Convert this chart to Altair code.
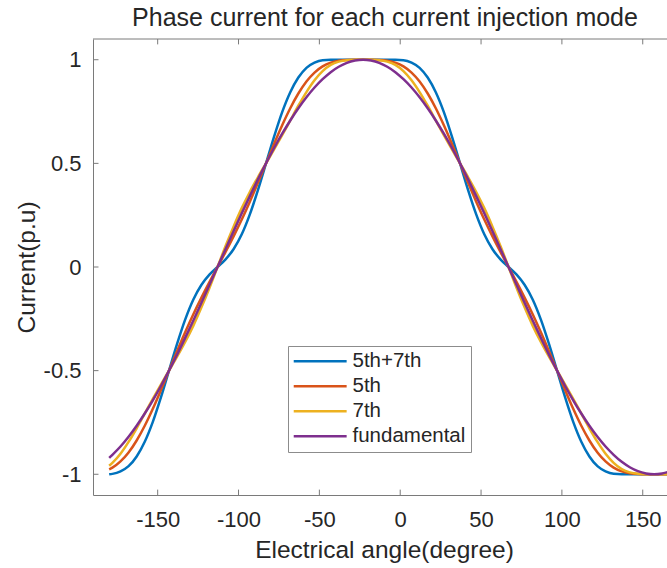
import altair as alt
import pandas as pd

# electrical angle (degree)
angle = [-180, -178, -173, -168, -163, -158, -153, -148, -143, -138, -133, -128, -123, -118,
         -113, -108, -103, -98, -93, -88, -83, -78, -73, -68, -63, -58, -53, -48, -43, -38,
         -33, -28, -23, -18, -13, -8, -3, 2, 7, 12, 17, 22, 27, 32, 37, 42, 47, 52, 57, 62,
         67, 72, 77, 82, 87, 92, 97, 102, 107, 112, 117, 122, 127, 132, 137, 142, 147, 152,
         157, 162, 167, 172, 177, 180]

series_names = ["5th+7th", "5th", "7th", "fundamental"]
colors = ["#0072BD", "#D95319", "#EDB120", "#7E2F8E"]

i_5th_7th = [
    -1.0, -0.998, -0.986, -0.961, -0.914, -0.843, -0.747, -0.629, -0.5, -0.371, -0.254, -0.158, -0.087, -0.037, 0.0,
    0.037, 0.087, 0.158, 0.254, 0.371, 0.5, 0.629, 0.747, 0.843, 0.914, 0.961, 0.986, 0.998, 1.0, 1.0, 1.0, 1.0, 1.0,
    1.0, 1.0, 1.0, 1.0, 0.998, 0.986, 0.961, 0.914, 0.843, 0.747, 0.629, 0.5, 0.371, 0.254, 0.158, 0.087, 0.037, 0.0,
    -0.037, -0.087, -0.158, -0.254, -0.371, -0.5, -0.629, -0.747, -0.843, -0.914, -0.961, -0.986, -0.998, -1.0, -1.0, -1.0, -1.0, -1.0,
    -1.0, -1.0, -1.0, -1.0, -1.0]

i_5th = [
    -0.976, -0.968, -0.938, -0.895, -0.837, -0.766, -0.684, -0.594, -0.5, -0.406, -0.315, -0.229, -0.149, -0.073, 0.0,
    0.073, 0.149, 0.229, 0.315, 0.406, 0.5, 0.594, 0.684, 0.766, 0.837, 0.895, 0.938, 0.968, 0.986, 0.995, 0.999, 1.0, 1.0,
    1.0, 0.999, 0.995, 0.986, 0.968, 0.938, 0.895, 0.837, 0.766, 0.684, 0.594, 0.5, 0.406, 0.315, 0.229, 0.149, 0.073, 0.0,
    -0.073, -0.149, -0.229, -0.315, -0.406, -0.5, -0.594, -0.684, -0.766, -0.837, -0.895, -0.938, -0.968, -0.986, -0.995, -0.999, -1.0, -1.0,
    -1.0, -0.999, -0.995, -0.986, -0.976]

i_7th = [
    -0.959, -0.945, -0.901, -0.844, -0.778, -0.707, -0.636, -0.567, -0.5, -0.433, -0.362, -0.284, -0.196, -0.101, 0.0,
    0.101, 0.196, 0.284, 0.362, 0.433, 0.5, 0.567, 0.636, 0.707, 0.778, 0.844, 0.901, 0.945, 0.975, 0.991, 0.998, 1.0, 1.0,
    1.0, 0.998, 0.991, 0.975, 0.945, 0.901, 0.844, 0.778, 0.707, 0.636, 0.567, 0.5, 0.433, 0.362, 0.284, 0.196, 0.101, 0.0,
    -0.101, -0.196, -0.284, -0.362, -0.433, -0.5, -0.567, -0.636, -0.707, -0.778, -0.844, -0.901, -0.945, -0.975, -0.991, -0.998, -1.0, -1.0,
    -1.0, -0.998, -0.991, -0.975, -0.959]

i_fund = [
    -0.921, -0.906, -0.866, -0.819, -0.766, -0.707, -0.643, -0.574, -0.5, -0.423, -0.342, -0.259, -0.174, -0.087, 0.0,
    0.087, 0.174, 0.259, 0.342, 0.423, 0.5, 0.574, 0.643, 0.707, 0.766, 0.819, 0.866, 0.906, 0.940, 0.966, 0.985, 0.996, 1.0,
    0.996, 0.985, 0.966, 0.940, 0.906, 0.866, 0.819, 0.766, 0.707, 0.643, 0.574, 0.5, 0.423, 0.342, 0.259, 0.174, 0.087, 0.0,
    -0.087, -0.174, -0.259, -0.342, -0.423, -0.5, -0.574, -0.643, -0.707, -0.766, -0.819, -0.866, -0.906, -0.940, -0.966, -0.985, -0.996, -1.0,
    -0.996, -0.985, -0.966, -0.940, -0.921]

x_ticks = [-150, -100, -50, 0, 50, 100, 150]
y_ticks = [-1, -0.5, 0, 0.5, 1]
x_lim = [-190, 165]
y_lim = [-1.1, 1.1]

FONT = "Liberation Sans"
TXT = "#262626"
FRAME = "#7a7a7a"
TICK_LEN_Y = 0.026   # inward tick length in y units
TICK_LEN_X = 3.4     # inward tick length in x units

rows = []
for name, vals in zip(series_names, [i_5th_7th, i_5th, i_7th, i_fund]):
    assert len(vals) == len(angle)
    for a, v in zip(angle, vals):
        rows.append({"angle": a, "current": v, "mode": name})
df = pd.DataFrame(rows)

xscale = alt.Scale(domain=x_lim, nice=False, zero=False)
yscale = alt.Scale(domain=y_lim, nice=False, zero=False)

x_axis = alt.Axis(values=x_ticks, title="Electrical angle(degree)", grid=False,
                  ticks=False, tickSize=0, labelPadding=31, labelBaseline="alphabetic",
                  labelExpr="'' + datum.value", labelFontSize=22,
                  titleFontSize=24.5, titleX=291, titleY=62, titleBaseline="alphabetic",
                  domainColor=FRAME)
y_axis = alt.Axis(values=y_ticks, title="Current(p.u)", grid=False,
                  ticks=False, tickSize=0, labelPadding=12,
                  labelExpr="'' + datum.value", labelFontSize=22,
                  titleFontSize=24.5, titleX=-59, titleY=228, titleBaseline="alphabetic",
                  titleAngle=270, domainColor=FRAME)

lines = alt.Chart(df).mark_line(strokeWidth=2.5, interpolate="monotone", clip=True).encode(
    x=alt.X("angle:Q", scale=xscale, axis=x_axis),
    y=alt.Y("current:Q", scale=yscale, axis=y_axis),
    color=alt.Color("mode:N", scale=alt.Scale(domain=series_names, range=colors),
                    legend=alt.Legend(title=None, orient="none", legendX=195, legendY=307,
                                      symbolType="M-1.8,0L8.2,0", symbolSize=112,
                                      symbolStrokeWidth=2.5, labelFontSize=20.5,
                                      labelFont=FONT, labelColor=TXT, labelOffset=39,
                                      padding=5, rowPadding=4, strokeColor="#8c8c8c",
                                      fillColor="white")),
)

xt = pd.DataFrame({"t": x_ticks,
                   "b0": [y_lim[0]] * len(x_ticks), "b1": [y_lim[0] + TICK_LEN_Y] * len(x_ticks),
                   "t0": [y_lim[1]] * len(x_ticks), "t1": [y_lim[1] - TICK_LEN_Y] * len(x_ticks)})
yt = pd.DataFrame({"t": y_ticks,
                   "l0": [x_lim[0]] * len(y_ticks), "l1": [x_lim[0] + TICK_LEN_X] * len(y_ticks)})

bottom_ticks = alt.Chart(xt).mark_rule(color=FRAME, strokeWidth=1).encode(
    x=alt.X("t:Q", scale=xscale, axis=x_axis),
    y=alt.Y("b0:Q", scale=yscale, axis=y_axis), y2="b1:Q")
top_ticks = alt.Chart(xt).mark_rule(color=FRAME, strokeWidth=1).encode(
    x=alt.X("t:Q", scale=xscale, axis=x_axis),
    y=alt.Y("t0:Q", scale=yscale, axis=y_axis), y2="t1:Q")
left_ticks = alt.Chart(yt).mark_rule(color=FRAME, strokeWidth=1).encode(
    y=alt.Y("t:Q", scale=yscale, axis=y_axis),
    x=alt.X("l0:Q", scale=xscale, axis=x_axis), x2="l1:Q")
top_border = alt.Chart(pd.DataFrame({"x0": [x_lim[0]], "x1": [x_lim[1]], "y": [y_lim[1]]})).mark_rule(
    color=FRAME, strokeWidth=1).encode(
    x=alt.X("x0:Q", scale=xscale, axis=x_axis), x2="x1:Q",
    y=alt.Y("y:Q", scale=yscale, axis=y_axis))

chart = alt.layer(lines, top_border, bottom_ticks, top_ticks, left_ticks).properties(
    width=574, height=456,
    autosize=alt.AutoSizeParams(type="none"),
    padding={"left": 93, "top": 39, "right": 0, "bottom": 73},
    title=alt.TitleParams("Phase current for each current injection mode", font=FONT,
                          fontSize=25, fontWeight="normal", color=TXT, anchor="middle",
                          frame="group", dx=5, offset=8),
).configure_view(stroke=None).configure_axis(
    labelFont=FONT, titleFont=FONT, labelColor=TXT, titleColor=TXT, titleFontWeight="normal"
)

chart.save("out.html", embed_options={"renderer": "svg", "actions": False})
